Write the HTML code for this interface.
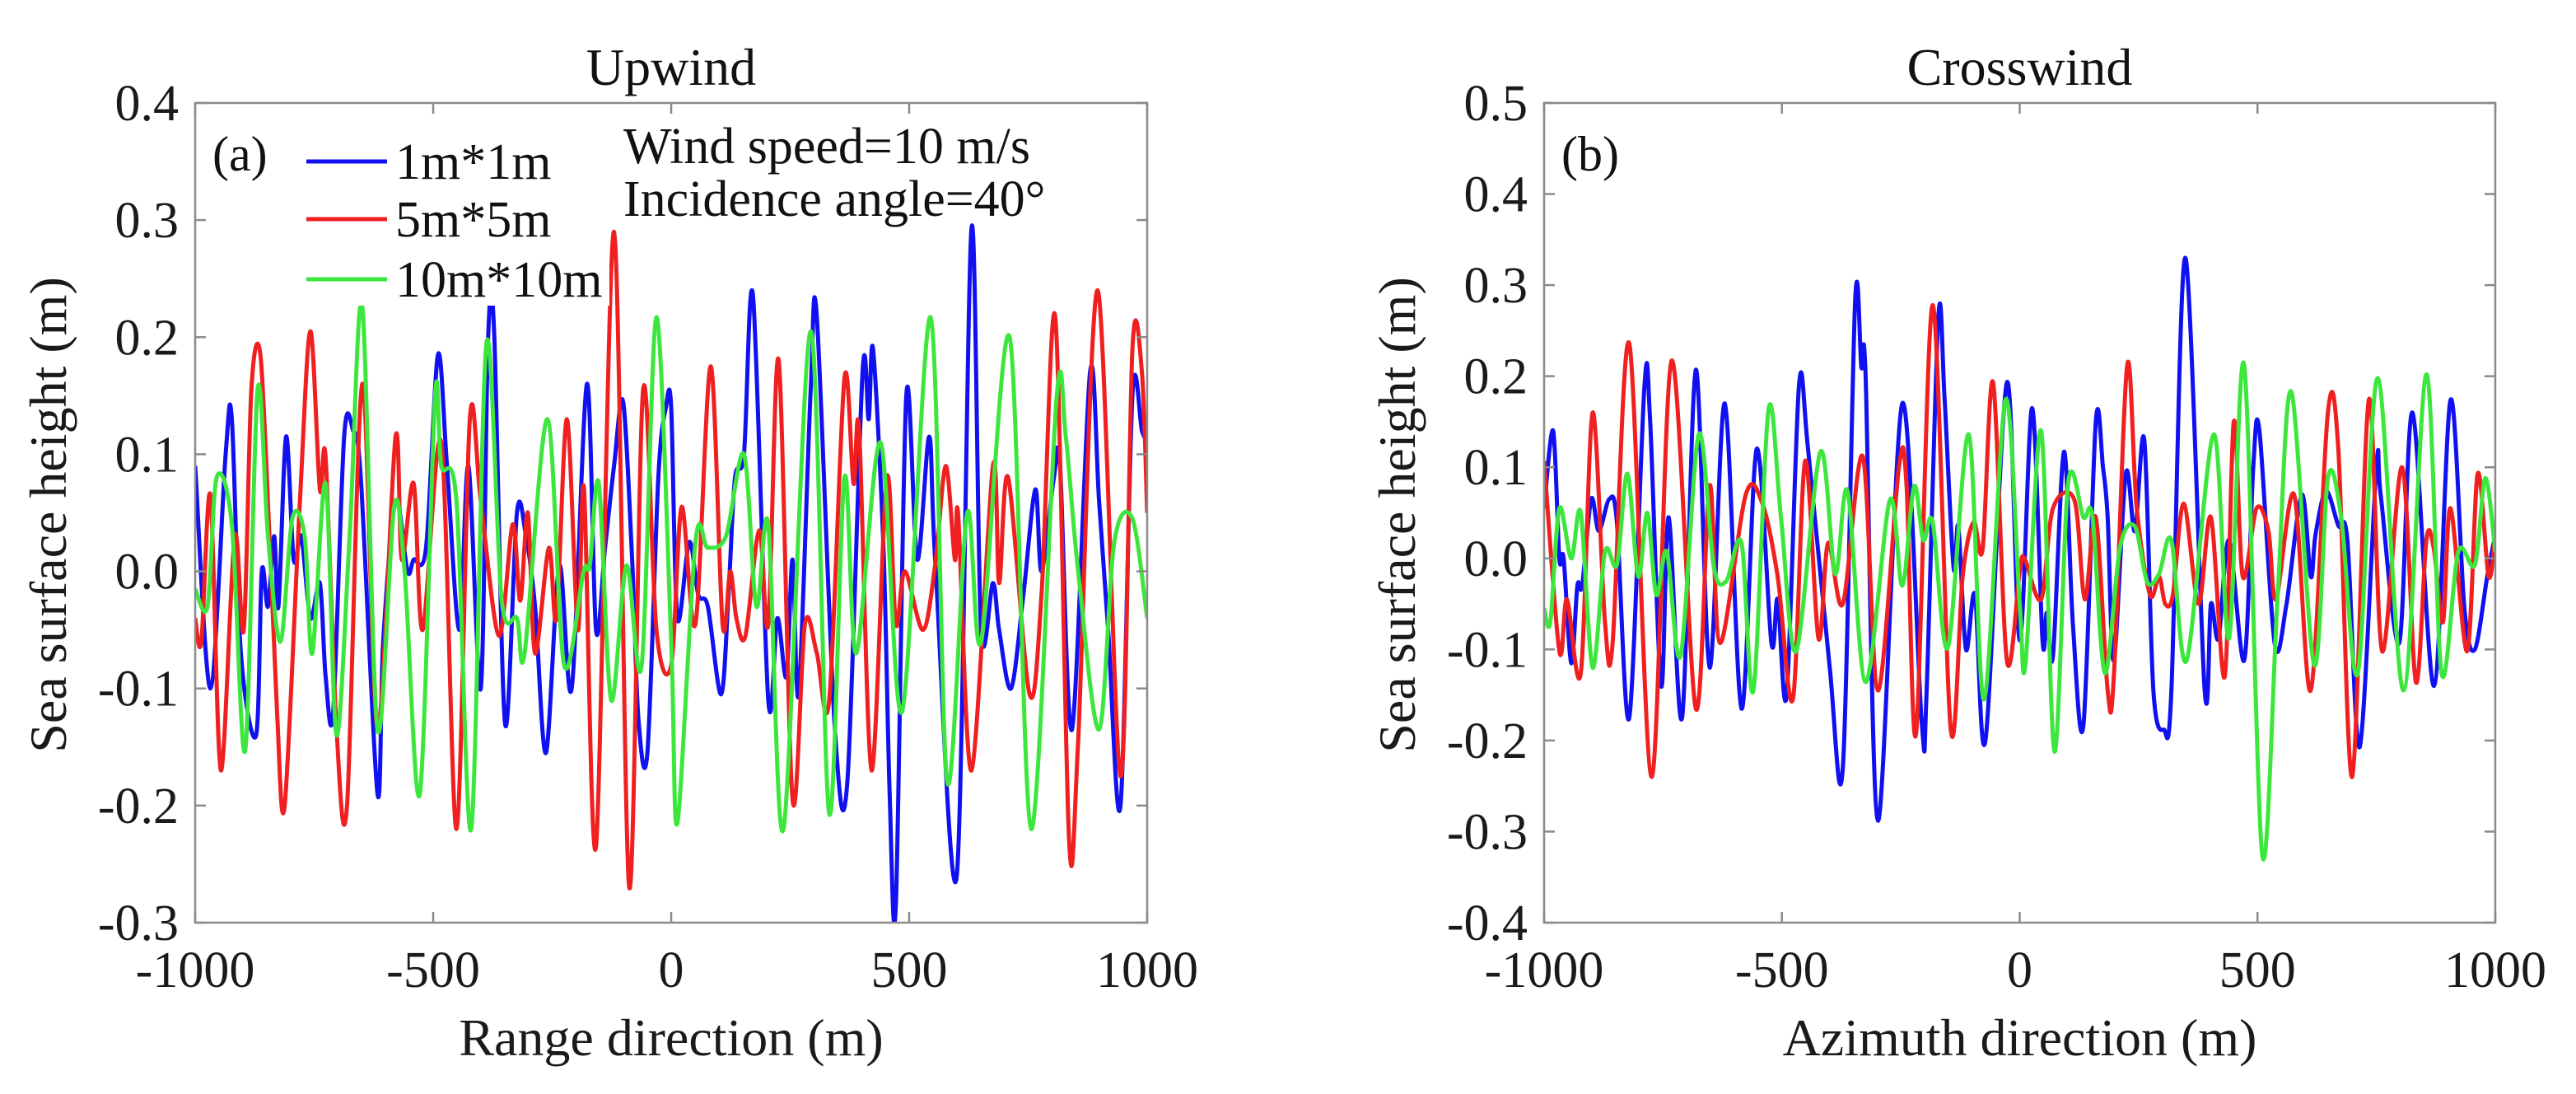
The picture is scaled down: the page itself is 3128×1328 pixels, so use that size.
<!DOCTYPE html>
<html><head><meta charset="utf-8">
<style>
html,body{margin:0;padding:0;background:#fff;}
svg{display:block;font-family:"Liberation Serif",serif;}
</style></head>
<body>
<svg id="fig" width="3128" height="1328" viewBox="0 0 3128 1328" xmlns="http://www.w3.org/2000/svg"></svg>
<script>
// ---------- data ----------
const xTicks = [-1000,-500,0,500,1000];
const yTicksUp = [0.4,0.3,0.2,0.1,0.0,-0.1,-0.2,-0.3];
const yTicksCross = [0.5,0.4,0.3,0.2,0.1,0.0,-0.1,-0.2,-0.3,-0.4];
const seriesNames = ["1m*1m","5m*5m","10m*10m"];

const upBlue = [[-1000,0.09],[-968,-0.1],[-936,0.1],[-923,0.13],[-904,-0.07],[-872,-0.14],[-860,0.0],[-847,-0.03],[-834,0.03],[-825,-0.03],[-809,0.115],[-793,0.01],[-777,0.03],[-758,-0.04],[-738,-0.01],[-726,-0.09],[-710,-0.12],[-687,0.115],[-668,0.12],[-652,0.08],[-617,-0.19],[-605,-0.06],[-579,0.06],[-554,0.0],[-541,0.01],[-515,0.02],[-490,0.185],[-471,0.09],[-445,-0.05],[-426,0.09],[-400,-0.1],[-385,0.195],[-372,0.205],[-349,-0.13],[-324,0.05],[-305,0.03],[-286,-0.03],[-263,-0.155],[-235,0.005],[-209,-0.1],[-177,0.16],[-158,-0.05],[-139,0.02],[-120,0.09],[-101,0.145],[-82,0.01],[-69,-0.125],[-50,-0.155],[-27,0.08],[-11,0.14],[0,0.14],[13,-0.04],[38,0.025],[57,-0.02],[77,-0.03],[105,-0.105],[121,-0.015],[134,0.08],[153,0.1],[172,0.235],[204,-0.11],[223,-0.04],[242,-0.09],[255,0.01],[268,-0.105],[293,0.155],[306,0.217],[344,-0.135],[370,-0.18],[402,0.17],[415,0.13],[424,0.19],[446,0.02],[459,-0.19],[472,-0.285],[494,0.15],[517,0.01],[542,0.115],[555,0.007],[600,-0.26],[631,0.293],[651,-0.05],[676,-0.01],[689,-0.05],[714,-0.1],[740,-0.02],[765,0.07],[778,0.0],[804,0.08],[817,0.09],[842,-0.135],[880,0.17],[899,0.06],[918,-0.05],[944,-0.2],[969,0.15],[989,0.12],[1000,0.11]];
const upRed = [[-1000,-0.04],[-987,-0.06],[-968,0.065],[-946,-0.17],[-917,0.03],[-898,-0.05],[-882,0.155],[-863,0.185],[-844,0.03],[-828,-0.12],[-812,-0.2],[-780,0.06],[-758,0.205],[-738,0.07],[-726,0.097],[-703,-0.135],[-681,-0.2],[-649,0.16],[-617,-0.135],[-579,0.115],[-566,0.01],[-541,0.075],[-522,-0.05],[-483,0.11],[-451,-0.22],[-423,0.13],[-400,0.06],[-362,-0.055],[-333,0.04],[-317,-0.025],[-301,0.05],[-286,-0.07],[-257,0.02],[-241,-0.04],[-219,0.13],[-196,-0.05],[-183,0.07],[-158,-0.235],[-120,0.29],[-88,-0.27],[-59,0.155],[-31,-0.05],[0,-0.08],[22,0.055],[51,-0.045],[83,0.175],[108,-0.045],[124,0.0],[137,-0.04],[156,-0.055],[185,0.035],[204,-0.045],[226,0.18],[255,-0.195],[281,-0.045],[306,-0.07],[332,-0.11],[364,0.165],[383,0.075],[395,0.12],[421,-0.17],[453,0.08],[472,-0.045],[491,0.0],[529,-0.05],[555,0.007],[577,0.09],[596,0.01],[603,0.048],[631,-0.17],[676,0.09],[689,-0.01],[708,0.08],[753,-0.105],[778,-0.02],[807,0.217],[836,-0.23],[855,-0.145],[896,0.24],[944,-0.175],[969,0.19],[989,0.17],[1000,0.05]];
const upGreen = [[-1000,-0.015],[-974,-0.03],[-955,0.08],[-923,0.04],[-895,-0.153],[-869,0.155],[-847,0.03],[-821,-0.06],[-796,0.045],[-770,0.03],[-754,-0.07],[-726,0.075],[-703,-0.14],[-675,0.035],[-649,0.226],[-617,-0.135],[-582,0.055],[-560,0.0],[-528,-0.19],[-496,0.15],[-483,0.09],[-451,0.06],[-420,-0.22],[-388,0.195],[-356,-0.025],[-324,-0.04],[-308,-0.07],[-260,0.13],[-225,-0.08],[-184,0.0],[-171,0.005],[-152,0.075],[-126,-0.11],[-94,0.005],[-62,-0.08],[-31,0.217],[0,-0.06],[13,-0.215],[51,0.025],[77,0.02],[115,0.03],[153,0.1],[179,-0.03],[204,0.04],[236,-0.22],[293,0.205],[332,-0.207],[364,0.08],[389,-0.07],[440,0.11],[485,-0.12],[545,0.217],[580,-0.18],[622,0.05],[651,-0.06],[711,0.2],[756,-0.22],[810,0.15],[829,0.115],[855,0.0],[899,-0.135],[931,0.025],[969,0.045],[1000,-0.04]];

const crBlue = [[-1000,0.055],[-981,0.14],[-968,0.0],[-959,0.0],[-943,-0.115],[-930,-0.03],[-920,-0.03],[-901,0.065],[-885,0.03],[-863,0.065],[-847,0.04],[-821,-0.175],[-789,0.19],[-777,0.15],[-754,-0.14],[-738,0.045],[-710,-0.175],[-681,0.207],[-652,-0.12],[-620,0.17],[-585,-0.165],[-553,0.12],[-522,-0.093],[-509,-0.045],[-490,-0.15],[-464,0.19],[-445,0.12],[-400,-0.117],[-372,-0.23],[-346,0.283],[-333,0.21],[-324,0.2],[-298,-0.288],[-247,0.17],[-206,-0.18],[-196,-0.15],[-171,0.265],[-158,0.175],[-139,-0.01],[-129,0.035],[-113,-0.1],[-94,-0.04],[-72,-0.2],[-27,0.193],[0,-0.09],[26,0.165],[48,-0.09],[57,-0.06],[70,-0.107],[93,0.117],[112,-0.074],[134,-0.183],[160,0.15],[175,0.1],[185,0.045],[198,-0.112],[223,0.093],[242,0.03],[262,0.13],[281,-0.145],[303,-0.188],[319,-0.145],[348,0.33],[389,-0.145],[402,-0.05],[418,-0.088],[440,0.02],[472,-0.112],[491,0.1],[504,0.14],[536,-0.093],[561,-0.05],[593,0.07],[612,-0.02],[622,0.026],[644,0.074],[670,0.036],[689,0.02],[715,-0.207],[750,0.1],[759,0.07],[798,-0.093],[826,0.16],[871,-0.14],[906,0.174],[935,-0.055],[957,-0.1],[983,-0.02],[1000,0.026]];
const crRed = [[-1000,0.107],[-968,-0.102],[-952,-0.045],[-923,-0.126],[-898,0.16],[-872,-0.07],[-856,-0.093],[-821,0.236],[-774,-0.24],[-732,0.217],[-681,-0.165],[-652,0.08],[-630,-0.093],[-576,0.07],[-541,0.06],[-509,-0.02],[-477,-0.155],[-451,0.107],[-423,-0.088],[-403,0.017],[-372,-0.05],[-330,0.112],[-298,-0.145],[-254,0.1],[-238,0.08],[-218,-0.193],[-183,0.278],[-145,-0.188],[-120,-0.02],[-97,0.04],[-78,0.01],[-56,0.193],[-27,-0.112],[0,-0.015],[10,0.0],[45,-0.045],[70,0.055],[115,0.064],[137,-0.045],[160,0.045],[185,-0.145],[198,-0.13],[226,0.212],[246,0.055],[274,-0.04],[293,-0.02],[306,-0.05],[322,-0.04],[345,0.06],[376,-0.05],[402,0.045],[431,-0.13],[450,0.15],[469,-0.02],[498,0.055],[523,0.03],[539,-0.045],[577,0.07],[612,-0.145],[648,0.16],[670,0.12],[699,-0.24],[734,0.174],[762,-0.102],[804,0.1],[833,-0.136],[855,0.02],[871,0.01],[890,-0.07],[906,0.055],[941,-0.102],[963,0.093],[986,-0.02],[1000,0.026]];
const crGreen = [[-1000,-0.055],[-987,-0.07],[-968,0.055],[-943,0.0],[-923,0.05],[-898,-0.12],[-872,0.007],[-847,-0.007],[-825,0.093],[-802,-0.02],[-783,0.05],[-764,-0.04],[-742,0.007],[-713,-0.107],[-675,0.136],[-643,-0.01],[-617,-0.025],[-585,0.017],[-560,-0.145],[-528,0.164],[-502,0.045],[-470,-0.102],[-419,0.117],[-388,-0.017],[-362,0.074],[-324,-0.136],[-273,0.064],[-247,-0.03],[-222,0.079],[-203,0.02],[-183,0.04],[-151,-0.098],[-107,0.136],[-75,-0.155],[-30,0.174],[0,-0.05],[12,-0.117],[45,0.14],[73,-0.212],[102,0.083],[134,0.045],[153,0.045],[179,-0.126],[211,0.012],[242,0.035],[268,-0.026],[293,-0.017],[319,0.02],[351,-0.112],[408,0.136],[440,-0.088],[472,0.212],[510,-0.326],[542,-0.045],[571,0.183],[619,-0.117],[648,0.088],[676,0.045],[711,-0.126],[753,0.198],[807,-0.145],[855,0.202],[887,-0.126],[922,0.007],[957,-0.007],[979,0.088],[1000,0.007]];

// ---------- rendering ----------
const NS = "http://www.w3.org/2000/svg";
const svg = document.getElementById("fig");
function mk(tag, attrs, parent){
  const e = document.createElementNS(NS, tag);
  for (const k in attrs) e.setAttribute(k, attrs[k]);
  (parent||svg).appendChild(e);
  return e;
}
const COLORS = ["#1010f0","#f02020","#3de63d"];

function smoothPath(pts){
  let d = "M"+pts[0][0].toFixed(1)+","+pts[0][1].toFixed(1);
  for (let i=0;i<pts.length-1;i++){
    const p0=pts[Math.max(0,i-1)], p1=pts[i], p2=pts[i+1], p3=pts[Math.min(pts.length-1,i+2)];
    const t=0.16;
    const c1x=p1[0]+(p2[0]-p0[0])*t, c1y=p1[1]+(p2[1]-p0[1])*t;
    const c2x=p2[0]-(p3[0]-p1[0])*t, c2y=p2[1]-(p3[1]-p1[1])*t;
    d+="C"+c1x.toFixed(1)+","+c1y.toFixed(1)+" "+c2x.toFixed(1)+","+c2y.toFixed(1)+" "+p2[0].toFixed(1)+","+p2[1].toFixed(1);
  }
  return d;
}

function drawPanel(cfg){
  const {L,R,T,B,yMin,yMax,yTicks,series,title,xlabel,tag,id} = cfg;
  const g = mk("g",{});
  
  
  const sx = v => L + (v+1000)/2000*(R-L);
  const sy = v => B - (v-yMin)/(yMax-yMin)*(B-T);
  const cp = mk("clipPath",{id:"clip-"+id},g);
  mk("rect",{x:L,y:T,width:R-L,height:B-T},cp);
  const sg = mk("g",{"clip-path":"url(#clip-"+id+")"},g);
  series.forEach((s,i)=>{
    const pts = s.map(p=>[sx(p[0]),sy(p[1])]);
    const path = mk("path",{d:smoothPath(pts),fill:"none",stroke:COLORS[i],"stroke-width":5,"stroke-linejoin":"round"},sg);
    
    
  });
  const box = mk("rect",{x:L,y:T,width:R-L,height:B-T,fill:"none",stroke:"#8a8a8a","stroke-width":2.5},g);
  
  
  xTicks.forEach(v=>{
    const x=sx(v);
    mk("line",{x1:x,y1:B,x2:x,y2:B-13,stroke:"#8a8a8a","stroke-width":2.5},g);
    mk("line",{x1:x,y1:T,x2:x,y2:T+13,stroke:"#8a8a8a","stroke-width":2.5},g);
    const t = mk("text",{x:x,y:1198,"font-size":62,"text-anchor":"middle",fill:"#1a1a1a"},g);
    t.textContent = String(v);
    
    
  });
  yTicks.forEach(v=>{
    const y=sy(v);
    mk("line",{x1:L,y1:y,x2:L+13,y2:y,stroke:"#8a8a8a","stroke-width":2.5},g);
    mk("line",{x1:R,y1:y,x2:R-13,y2:y,stroke:"#8a8a8a","stroke-width":2.5},g);
    const t = mk("text",{x:L-20,y:y+21,"font-size":62,"text-anchor":"end",fill:"#1a1a1a"},g);
    t.textContent = v.toFixed(1);
    
    
  });
  const tt = mk("text",{x:(L+R)/2,y:103,"font-size":64,"text-anchor":"middle",fill:"#111"},g);
  tt.textContent = title;
  
  
  const xl = mk("text",{x:(L+R)/2,y:1281,"font-size":64,"text-anchor":"middle",fill:"#1a1a1a"},g);
  xl.textContent = xlabel;
  
  
  const yx = L-157;
  const yl = mk("text",{x:yx,y:625,"font-size":64,"text-anchor":"middle",fill:"#1a1a1a",transform:"rotate(-90 "+yx+" 625)"},g);
  yl.textContent = "Sea surface height (m)";
  
  
  const tg = mk("text",{x:L+21,y:207,"font-size":60,fill:"#111"},g);
  tg.textContent = tag;
  
  
  return {g,sx,sy};
}

drawPanel({L:237,R:1393,T:125,B:1120,yMin:-0.3,yMax:0.4,yTicks:yTicksUp,series:[upBlue,upRed,upGreen],title:"Upwind",xlabel:"Range direction (m)",tag:"(a)",id:"upwind"});
drawPanel({L:1875,R:3030,T:125,B:1120,yMin:-0.4,yMax:0.5,yTicks:yTicksCross,series:[crBlue,crRed,crGreen],title:"Crosswind",xlabel:"Azimuth direction (m)",tag:"(b)",id:"crosswind"});

const lg = mk("g",{});


const legY = [196,266,339];
seriesNames.forEach((n,i)=>{
  const e = mk("g",{},lg);
  
  
  mk("rect",{x:370,y:legY[i]-30,width:370,height:62,fill:"#fff"},e);
  mk("line",{x1:372,y1:legY[i],x2:470,y2:legY[i],stroke:COLORS[i],"stroke-width":5},e);
  const t = mk("text",{x:480,y:legY[i]+21,"font-size":62,fill:"#111"},e);
  t.textContent = n;
});
const a1 = mk("text",{x:757,y:198,"font-size":62,fill:"#111"});
a1.textContent = "Wind speed=10 m/s";


const a2 = mk("text",{x:757,y:262,"font-size":62,fill:"#111"});
a2.textContent = "Incidence angle=40°";


</script>
</body></html>
